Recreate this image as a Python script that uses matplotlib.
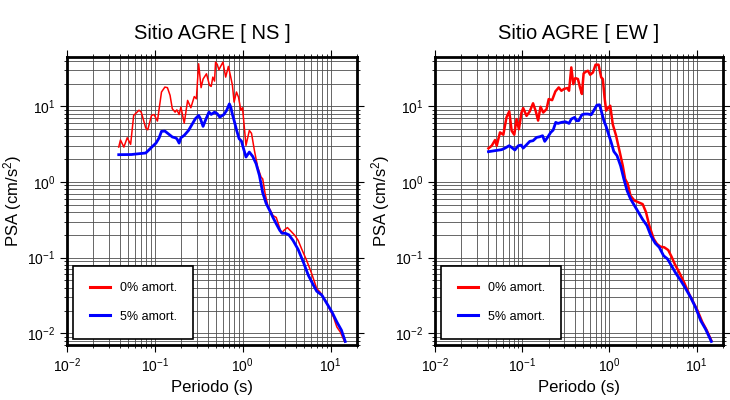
import matplotlib
matplotlib.use("Agg")
import matplotlib.pyplot as plt

plt.rcParams['font.family'] = ['Liberation Sans', 'DejaVu Sans']
plt.rcParams['mathtext.default'] = 'regular'

# Componente NS
t_ns_0 = [0.0388, 0.0406, 0.0444, 0.0485, 0.053, 0.0574, 0.066, 0.070, 0.0787, 0.083, 0.0916, 0.098,
          0.107, 0.119, 0.130, 0.139, 0.149, 0.158, 0.170, 0.178, 0.189, 0.198, 0.216, 0.236, 0.257,
          0.281, 0.297, 0.315, 0.336, 0.354, 0.387, 0.419, 0.438, 0.457, 0.478, 0.491, 0.513, 0.536,
          0.561, 0.596, 0.640, 0.687, 0.731, 0.764, 0.798, 0.849, 0.895, 0.953, 0.995, 1.09, 1.19,
          1.26, 1.36, 1.48, 1.62, 1.69, 1.80, 1.93, 2.07, 2.21, 2.41, 2.57, 2.75, 2.95, 3.23, 3.59,
          3.92, 4.28, 4.68, 5.34, 6.1, 6.96, 7.6, 8.3, 9.5, 10.8, 11.8, 12.9, 14.5]
psa_ns_0 = [2.9, 3.6, 2.9, 3.85, 3.15, 7.6, 8.9, 8.4, 5.2, 4.9, 7.6, 7.8, 6.4, 15.5, 18, 17.7, 14, 9.3,
            8.4, 9.0, 7.8, 9.8, 6.0, 12, 9.6, 13.5, 12.6, 36.6, 17.7, 23, 27, 19, 18.4, 24.4, 21.6,
            38.5, 35.9, 30.5, 33.8, 38.5, 24.4, 33.8, 24.4, 19, 11.4, 15.5, 13.3, 8.9, 9.6, 3.05, 4.8,
            4.4, 2.6, 1.58, 1.16, 1.1, 0.70, 0.49, 0.42, 0.36, 0.34, 0.27, 0.21, 0.23, 0.25, 0.22,
            0.197, 0.169, 0.131, 0.092, 0.0615, 0.039, 0.035, 0.030, 0.0223, 0.0164, 0.0121, 0.0104,
            0.0077]
t_ns_5 = [0.0388, 0.054, 0.064, 0.0787, 0.086, 0.094, 0.103, 0.112, 0.119, 0.130, 0.142, 0.158, 0.170,
          0.178, 0.189, 0.198, 0.216, 0.242, 0.265, 0.289, 0.315, 0.330, 0.354, 0.376, 0.413, 0.438,
          0.478, 0.513, 0.548, 0.612, 0.656, 0.705, 0.731, 0.764, 0.798, 0.853, 0.910, 0.968, 1.01,
          1.09, 1.19, 1.30, 1.42, 1.55, 1.69, 1.85, 2.03, 2.21, 2.41, 2.64, 2.81, 3.06, 3.36, 3.74,
          4.28, 4.89, 5.6, 6.4, 6.96, 7.95, 9.1, 10.4, 11.8, 13.3, 14.7]
psa_ns_5 = [2.3, 2.31, 2.36, 2.42, 2.67, 2.96, 3.27, 3.85, 4.68, 4.72, 4.35, 3.94, 3.85, 3.74, 3.27,
            3.85, 4.14, 4.82, 5.78, 6.87, 7.6, 6.87, 5.44, 6.53, 8.4, 7.83, 8.4, 8.0, 7.2, 7.83, 8.85,
            10.8, 9.8, 7.83, 6.53, 4.82, 3.74, 3.48, 2.9, 2.14, 2.49, 2.18, 1.75, 1.22, 0.72, 0.52,
            0.42, 0.34, 0.28, 0.23, 0.21, 0.21, 0.20, 0.169, 0.128, 0.088, 0.058, 0.043, 0.036, 0.032,
            0.0247, 0.019, 0.0141, 0.011, 0.0078]

# Componente EW
t_ew_0 = [0.041, 0.0447, 0.0488, 0.051, 0.0556, 0.0607, 0.066, 0.071, 0.0756, 0.081, 0.086, 0.0916,
          0.098, 0.1026, 0.112, 0.122, 0.133, 0.143, 0.152, 0.162, 0.174, 0.19, 0.201, 0.22, 0.24,
          0.262, 0.281, 0.301, 0.329, 0.344, 0.365, 0.385, 0.406, 0.435, 0.459, 0.483, 0.505, 0.542,
          0.566, 0.601, 0.646, 0.692, 0.749, 0.803, 0.839, 0.877, 0.916, 0.975, 1.02, 1.09, 1.19,
          1.30, 1.42, 1.51, 1.62, 1.74, 1.93, 2.14, 2.40, 2.62, 2.86, 3.21, 3.50, 3.82, 4.24, 4.71,
          5.14, 5.61, 6.29, 7.17, 8.18, 8.93, 10.2, 11.6, 13.0, 14.7]
psa_ew_0 = [2.79, 3.02, 3.59, 3.02, 4.53, 4.22, 7.17, 8.6, 4.76, 4.22, 6.8, 5.0, 8.3, 9.5, 7.5, 8.6,
            11, 8.6, 6.5, 9.9, 8.3, 9.2, 12.5, 12.1, 15.8, 17.8, 16.1, 17, 17.5, 16.1, 32.8, 19.7,
            23.7, 23, 17.8, 14.6, 27.3, 29, 29.6, 26.2, 28.1, 35.6, 35.6, 24.2, 23, 13.2, 8.8, 9.7,
            10.2, 5.8, 4.1, 2.6, 1.64, 1.10, 0.94, 0.66, 0.57, 0.54, 0.51, 0.40, 0.265, 0.177, 0.152,
            0.14, 0.137, 0.126, 0.103, 0.082, 0.064, 0.047, 0.033, 0.027, 0.020, 0.014, 0.011, 0.008]
t_ew_5 = [0.041, 0.0488, 0.058, 0.0636, 0.0707, 0.0756, 0.0823, 0.090, 0.097, 0.1026, 0.112, 0.122,
          0.133, 0.146, 0.159, 0.171, 0.181, 0.195, 0.212, 0.226, 0.242, 0.257, 0.281, 0.312, 0.344,
          0.365, 0.399, 0.417, 0.443, 0.483, 0.519, 0.566, 0.618, 0.663, 0.717, 0.769, 0.803, 0.862,
          0.916, 0.975, 1.045, 1.12, 1.22, 1.34, 1.46, 1.59, 1.74, 1.93, 2.14, 2.40, 2.69, 2.98,
          3.35, 3.72, 4.17, 4.63, 5.14, 5.76, 6.57, 7.5, 8.5, 9.7, 11.1, 12.6, 14.7]
psa_ew_5 = [2.52, 2.6, 2.68, 2.81, 3.02, 2.87, 2.65, 3.02, 3.08, 2.81, 3.11, 3.45, 3.52, 3.89, 3.97,
            4.1, 3.45, 3.89, 4.53, 4.86, 6.15, 5.96, 6.15, 6.27, 5.96, 6.8, 7.17, 6.47, 6.47, 7.76,
            7.93, 7.93, 7.76, 8.9, 10.4, 10.5, 8.8, 6.47, 5.4, 4.3, 3.35, 2.54, 2.23, 1.64, 1.10,
            0.77, 0.60, 0.49, 0.40, 0.32, 0.265, 0.195, 0.155, 0.137, 0.106, 0.096, 0.078, 0.062,
            0.0497, 0.0386, 0.030, 0.022, 0.0147, 0.0114, 0.0078]

paneles = [
    ("Sitio AGRE [ NS ]", t_ns_0, psa_ns_0, t_ns_5, psa_ns_5, 1.1),
    ("Sitio AGRE [ EW ]", t_ew_0, psa_ew_0, t_ew_5, psa_ew_5, 1.8),
]
posiciones = [[67/730, 55/400, 290/730, 288/400], [435/730, 55/400, 288/730, 288/400]]

fig = plt.figure(figsize=(7.3, 4.0), dpi=100)
for (titulo, t0, p0, t5, p5, lw0), pos in zip(paneles, posiciones):
    ax = fig.add_axes(pos)
    ax.set_xscale('log')
    ax.set_yscale('log')
    ax.plot(t0, p0, color='red', lw=lw0, label='0% amort.')
    ax.plot(t5, p5, color='blue', lw=2.0, label='5% amort.')
    ax.set_xlim(0.01, 20)
    ax.set_ylim(0.007, 45)
    ax.grid(True, which='both', color='0.3', lw=0.6)
    ax.set_axisbelow(True)
    for s in ax.spines.values():
        s.set_linewidth(2.0)
    ax.tick_params(which='both', direction='out', top=True, right=True)
    ax.tick_params(which='major', length=5, width=0.8, labelsize=10)
    ax.tick_params(which='minor', length=2.5, width=0.6)
    ax.set_title(titulo, fontsize=14.5, pad=13)
    ax.set_xlabel('Periodo (s)', fontsize=12, labelpad=3)
    ax.set_ylabel('PSA (cm/s$^2$)', fontsize=12, labelpad=2)
    leg = ax.legend(loc='lower left', fontsize=9, fancybox=False, framealpha=1,
                    edgecolor='black', borderpad=1.3, labelspacing=1.3, handlelength=1.6,
                    handletextpad=0.8, borderaxespad=0.5)
    leg.get_frame().set_linewidth(1.2)
    for h in leg.get_lines():
        h.set_linewidth(2.2)

fig.savefig('out.png', dpi=100)
